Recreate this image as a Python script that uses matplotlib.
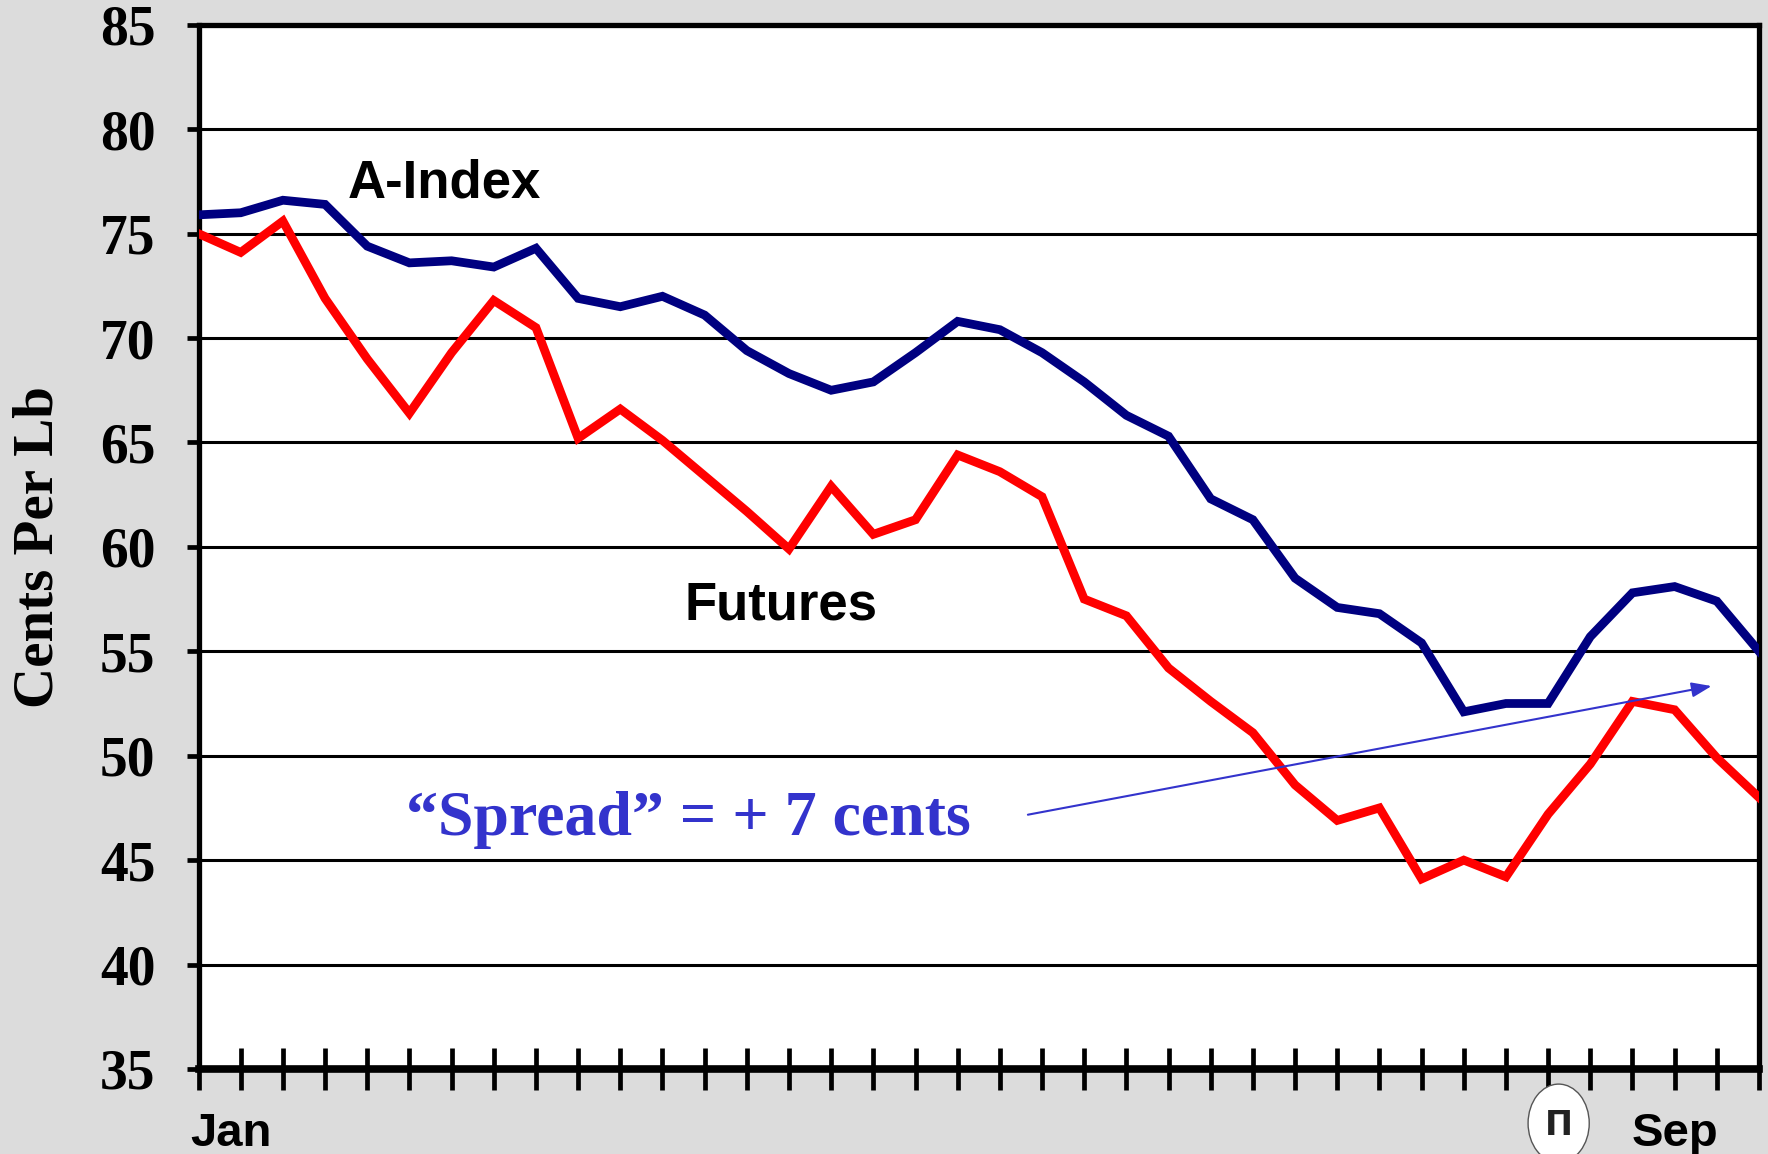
import matplotlib
matplotlib.use("Agg")
import matplotlib.pyplot as plt
from matplotlib.patches import Ellipse
from matplotlib.transforms import blended_transform_factory

weeks = list(range(38))
a_index = [75.9, 76.0, 76.6, 76.4, 74.4, 73.6, 73.7, 73.4, 74.3, 71.9,
           71.5, 72.0, 71.1, 69.4, 68.3, 67.5, 67.9, 69.3, 70.8, 70.4,
           69.3, 67.9, 66.3, 65.3, 62.3, 61.3, 58.5, 57.1, 56.8, 55.4,
           52.1, 52.5, 52.5, 55.7, 57.8, 58.1, 57.4, 55.0]
futures = [75.0, 74.1, 75.6, 71.9, 69.0, 66.4, 69.3, 71.8, 70.5, 65.2,
           66.6, 65.1, 63.4, 61.7, 59.9, 62.9, 60.6, 61.3, 64.4, 63.6,
           62.4, 57.5, 56.7, 54.2, 52.6, 51.1, 48.6, 46.9, 47.5, 44.1,
           45.0, 44.2, 47.2, 49.6, 52.6, 52.2, 49.9, 48.0]
y_ticks = [35, 40, 45, 50, 55, 60, 65, 70, 75, 80, 85]
month_labels = ["Jan", "Sep"]
month_pos = [0, 35]

fig = plt.figure(figsize=(17.68, 11.54), dpi=100)
fig.patch.set_facecolor("#dcdcdc")
ax = fig.add_axes([0.1123, 0.0737, 0.9949 - 0.1123, 0.9785 - 0.0737])
ax.set_facecolor("white")

for y in y_ticks[1:-1]:
    ax.axhline(y, color="black", lw=2.2, zorder=1)

ax.plot(weeks, a_index, color="#000080", lw=6.3, zorder=3, solid_joinstyle="miter")
ax.plot(weeks, futures, color="#ff0000", lw=6.3, zorder=3, solid_joinstyle="miter")

ax.set_xlim(0, 37)
ax.set_ylim(35, 85)
ax.set_yticks(y_ticks)
ax.set_yticklabels([str(v) for v in y_ticks], family="Liberation Serif",
                   fontweight="bold", fontsize=40)
ax.set_xticks(weeks)
ax.set_xticklabels([])
ax.tick_params(axis="x", direction="inout", length=30, width=3.4, color="black")
ax.tick_params(axis="y", direction="out", length=9, width=3.4, pad=22)

for side in ["left", "right", "top"]:
    ax.spines[side].set_linewidth(3.8)
ax.spines["bottom"].set_linewidth(5.5)

ax.set_ylabel("Cents Per Lb", family="Liberation Serif", fontweight="bold",
              fontsize=41)
ax.yaxis.set_label_coords(-0.086, 0.5)

trans = blended_transform_factory(ax.transData, ax.transAxes)
ax.text(-0.2, -0.062, month_labels[0], transform=trans, ha="left", va="center",
        family="Liberation Sans", fontweight="bold", fontsize=34)
ax.text(month_pos[1], -0.062, month_labels[1], transform=trans, ha="center",
        va="center", family="Liberation Sans", fontweight="bold", fontsize=34)

ax.text(3.53, 77.4, "A-Index", ha="left", va="center", family="Liberation Sans",
        fontweight="bold", fontsize=38, zorder=4)
ax.text(11.52, 57.2, "Futures", ha="left", va="center", family="Liberation Sans",
        fontweight="bold", fontsize=38, zorder=4)
ax.text(4.92, 46.9, "\u201cSpread\u201d = + 7 cents", ha="left", va="center",
        family="Liberation Serif", fontweight="bold", fontsize=46,
        color="#3333cc", zorder=4)
ax.annotate("", xy=(35.94, 53.36), xytext=(19.6, 47.15),
            arrowprops=dict(arrowstyle="-|>,head_length=1.2,head_width=0.45",
                            color="#3333cc", lw=1.5), zorder=4)

# small seal near the Sep label
seal = Ellipse((32.25, -0.052), width=1.45, height=0.075, transform=trans,
               facecolor="white", edgecolor="#555555", lw=1, clip_on=False, zorder=5)
ax.add_patch(seal)
ax.text(32.25, -0.054, "\u03a0", transform=trans, ha="center", va="center",
        fontsize=24, fontweight="bold", color="#222222", clip_on=False, zorder=6)

fig.savefig("out.png", dpi=100, facecolor=fig.get_facecolor())
